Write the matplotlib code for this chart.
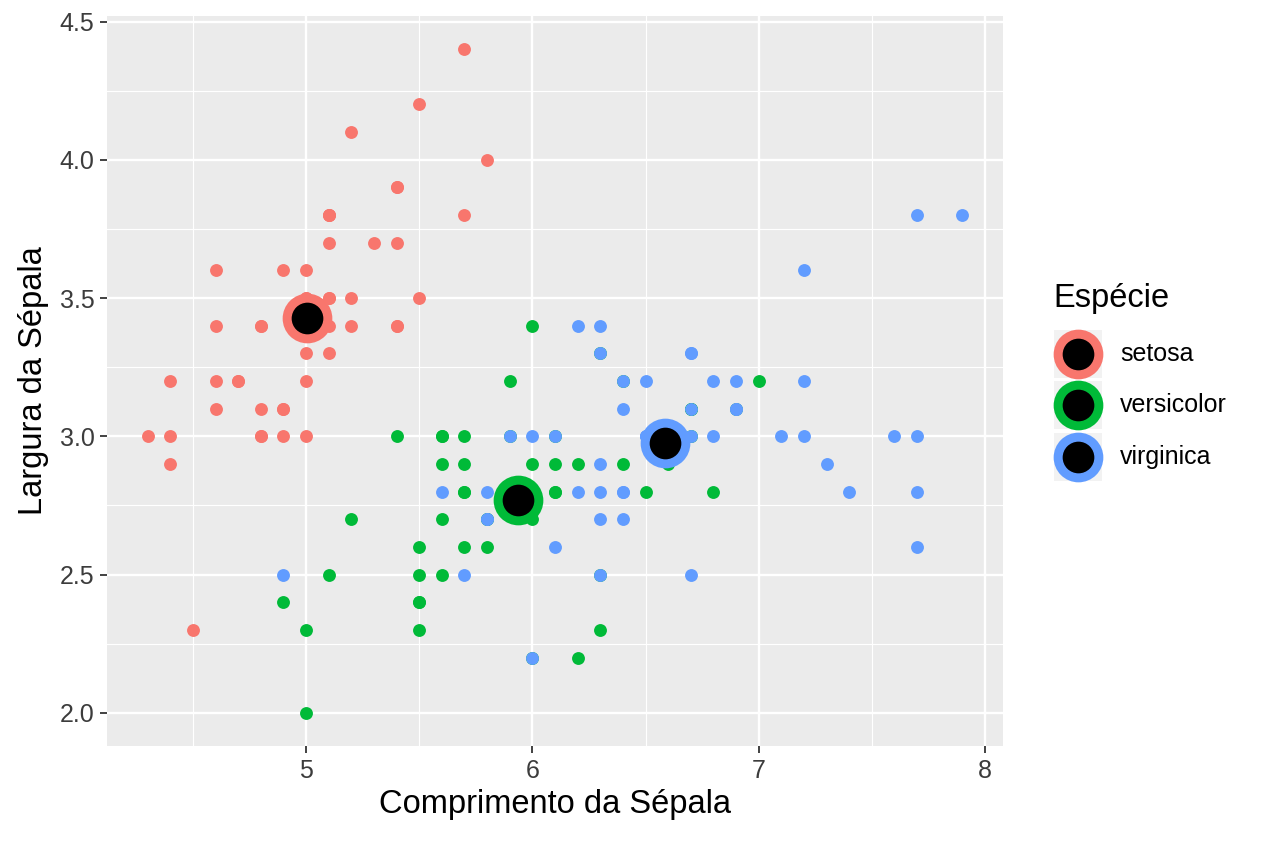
import matplotlib.pyplot as plt
import numpy as np
from matplotlib.patches import Rectangle

plt.rcParams['font.family'] = ['Liberation Sans', 'DejaVu Sans']

# Iris sepal measurements (length, width) per species
setosa_len = [5.1, 4.9, 4.7, 4.6, 5.0, 5.4, 4.6, 5.0, 4.4, 4.9, 5.4, 4.8, 4.8, 4.3, 5.8, 5.7, 5.4,
              5.1, 5.7, 5.1, 5.4, 5.1, 4.6, 5.1, 4.8, 5.0, 5.0, 5.2, 5.2, 4.7, 4.8, 5.4, 5.2, 5.5,
              4.9, 5.0, 5.5, 4.9, 4.4, 5.1, 5.0, 4.5, 4.4, 5.0, 5.1, 4.8, 5.1, 4.6, 5.3, 5.0]
setosa_wid = [3.5, 3.0, 3.2, 3.1, 3.6, 3.9, 3.4, 3.4, 2.9, 3.1, 3.7, 3.4, 3.0, 3.0, 4.0, 4.4, 3.9,
              3.5, 3.8, 3.8, 3.4, 3.7, 3.6, 3.3, 3.4, 3.0, 3.4, 3.5, 3.4, 3.2, 3.1, 3.4, 4.1, 4.2,
              3.1, 3.2, 3.5, 3.6, 3.0, 3.4, 3.5, 2.3, 3.2, 3.5, 3.8, 3.0, 3.8, 3.2, 3.7, 3.3]
versicolor_len = [7.0, 6.4, 6.9, 5.5, 6.5, 5.7, 6.3, 4.9, 6.6, 5.2, 5.0, 5.9, 6.0, 6.1, 5.6, 6.7, 5.6,
                  5.8, 6.2, 5.6, 5.9, 6.1, 6.3, 6.1, 6.4, 6.6, 6.8, 6.7, 6.0, 5.7, 5.5, 5.5, 5.8, 6.0,
                  5.4, 6.0, 6.7, 6.3, 5.6, 5.5, 5.5, 6.1, 5.8, 5.0, 5.6, 5.7, 5.7, 6.2, 5.1, 5.7]
versicolor_wid = [3.2, 3.2, 3.1, 2.3, 2.8, 2.8, 3.3, 2.4, 2.9, 2.7, 2.0, 3.0, 2.2, 2.9, 2.9, 3.1, 3.0,
                  2.7, 2.2, 2.5, 3.2, 2.8, 2.5, 2.8, 2.9, 3.0, 2.8, 3.0, 2.9, 2.6, 2.4, 2.4, 2.7, 2.7,
                  3.0, 3.4, 3.1, 2.3, 3.0, 2.5, 2.6, 3.0, 2.6, 2.3, 2.7, 3.0, 2.9, 2.9, 2.5, 2.8]
virginica_len = [6.3, 5.8, 7.1, 6.3, 6.5, 7.6, 4.9, 7.3, 6.7, 7.2, 6.5, 6.4, 6.8, 5.7, 5.8, 6.4, 6.5,
                 7.7, 7.7, 6.0, 6.9, 5.6, 7.7, 6.3, 6.7, 7.2, 6.2, 6.1, 6.4, 7.2, 7.4, 7.9, 6.4, 6.3,
                 6.1, 7.7, 6.3, 6.4, 6.0, 6.9, 6.7, 6.9, 5.8, 6.8, 6.7, 6.7, 6.3, 6.5, 6.2, 5.9]
virginica_wid = [3.3, 2.7, 3.0, 2.9, 3.0, 3.0, 2.5, 2.9, 2.5, 3.6, 3.2, 2.7, 3.0, 2.5, 2.8, 3.2, 3.0,
                 3.8, 2.6, 2.2, 3.2, 2.8, 2.8, 2.7, 3.3, 3.2, 2.8, 3.0, 2.8, 3.0, 2.8, 3.8, 2.8, 2.8,
                 2.6, 3.0, 3.4, 3.1, 3.0, 3.1, 3.1, 3.1, 2.7, 3.2, 3.3, 3.0, 2.5, 3.0, 3.4, 3.0]

species = ['setosa', 'versicolor', 'virginica']
colors = ['#F8766D', '#00BA38', '#619CFF']
lengths = [setosa_len, versicolor_len, virginica_len]
widths = [setosa_wid, versicolor_wid, virginica_wid]

fig = plt.figure(figsize=(12.64, 8.43), dpi=100)
ax = fig.add_axes([107 / 1264, 1 - 746 / 843, (1003 - 107) / 1264, (746 - 16) / 843])
ax.set_facecolor('#EBEBEB')

for sl, sw, c in zip(lengths, widths, colors):
    ax.scatter(sl, sw, s=86, color=c, linewidths=0, zorder=3)

# centroids
for sl, sw, c in zip(lengths, widths, colors):
    mx, my = np.mean(sl), np.mean(sw)
    ax.scatter([mx], [my], s=1280, color=c, linewidths=0, zorder=4)
    ax.scatter([mx], [my], s=520, color='black', linewidths=0, zorder=5)

ax.set_xlim(4.12, 8.08)
ax.set_ylim(1.88, 4.52)
ax.set_xticks([5, 6, 7, 8])
ax.set_yticks([2.0, 2.5, 3.0, 3.5, 4.0, 4.5])
ax.set_yticklabels(['2.0', '2.5', '3.0', '3.5', '4.0', '4.5'])
ax.set_xticks([4.5, 5.5, 6.5, 7.5], minor=True)
ax.set_yticks([2.25, 2.75, 3.25, 3.75, 4.25], minor=True)
ax.grid(which='major', color='white', linewidth=1.7, zorder=0)
ax.grid(which='minor', color='white', linewidth=0.85, zorder=0)
ax.set_axisbelow(True)
for sp in ax.spines.values():
    sp.set_visible(False)
ax.tick_params(which='major', length=5, width=1.3, color='#333333', labelcolor='#3C3C3C',
               labelsize=18, pad=4)
ax.tick_params(which='minor', length=0)
ax.set_xlabel('Comprimento da Sépala', fontsize=23.5, labelpad=5)
ax.set_ylabel('Largura da Sépala', fontsize=23.5, labelpad=8)

# legend
lax = fig.add_axes([0, 0, 1, 1])
lax.set_xlim(0, 1264)
lax.set_ylim(843, 0)
lax.axis('off')
lax.text(1053, 298, 'Espécie', fontsize=23.5, va='center', ha='left')
key_y = [354, 405, 457]
for ky, c, name in zip(key_y, colors, species):
    lax.add_patch(Rectangle((1054, ky - 24), 48, 48, color='#F2F2F2', linewidth=0))
    lax.scatter([1078], [ky], s=1280, color=c, linewidths=0)
    lax.scatter([1078], [ky], s=520, color='black', linewidths=0)
    lax.text(1120, ky, name, fontsize=18, va='center', ha='left')

fig.savefig('out.png', dpi=100)
